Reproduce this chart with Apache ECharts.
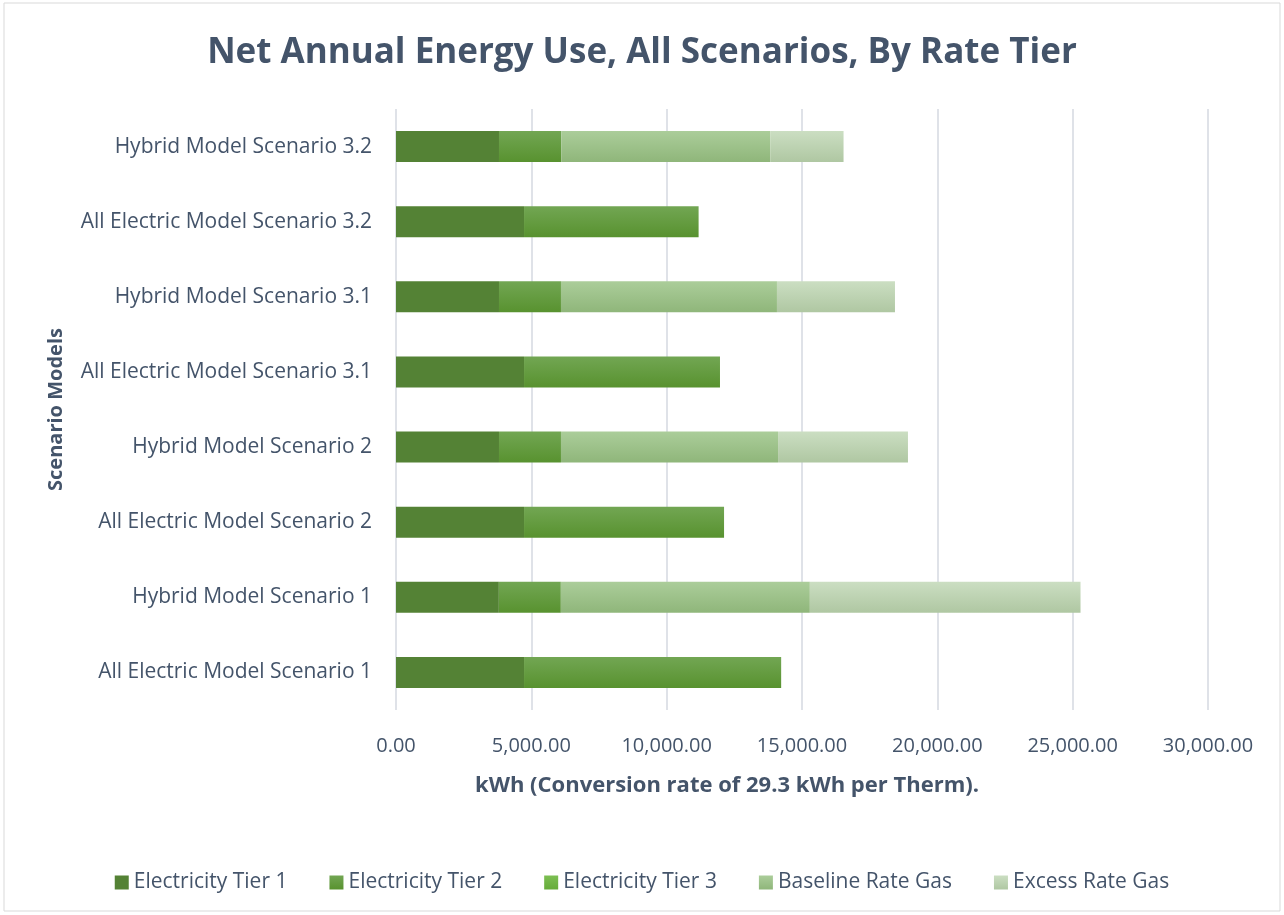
<!DOCTYPE html>
<html>
<head>
<meta charset="utf-8">
<title>Net Annual Energy Use</title>
<script src="https://cdn.jsdelivr.net/npm/echarts@6/dist/echarts.min.js"></script>
<style>
  html, body { margin: 0; padding: 0; background: #fff; }
  #chart { width: 1284px; height: 915px; }
</style>
</head>
<body>
<div id="chart"></div>
<script>
// categories run bottom -> top on the category axis
const scenarios = [
  "All Electric Model Scenario 1",
  "Hybrid Model Scenario 1",
  "All Electric Model Scenario 2",
  "Hybrid Model Scenario 2",
  "All Electric Model Scenario 3.1",
  "Hybrid Model Scenario 3.1",
  "All Electric Model Scenario 3.2",
  "Hybrid Model Scenario 3.2"
];
const elecTier1 = [4730, 3800, 4730, 3805, 4730, 3805, 4730, 3805];
const elecTier2 = [9500, 2290, 7390, 2290, 7240, 2290, 6450, 2300];
const elecTier3 = [0, 0, 0, 0, 0, 0, 0, 0];
const baselineGas = [0, 9200, 0, 8020, 0, 7980, 0, 7730];
const excessGas = [0, 10000, 0, 4800, 0, 4360, 0, 2700];
const xTicks = { min: 0, max: 30000, interval: 5000 };

const textColor = "#44546a";
const font = "'Open Sans', sans-serif";

function grad(top, bottom) {
  return new echarts.graphic.LinearGradient(0, 0, 0, 1, [
    { offset: 0, color: top },
    { offset: 1, color: bottom },
  ]);
}

function makeSeries(name, data, color) {
  return {
    name: name,
    type: "bar",
    stack: "total",
    barWidth: 31,
    data: data,
    itemStyle: { color: color },
    emphasis: { disabled: true },
  };
}

const chart = echarts.init(document.getElementById("chart"));
const option = {
  backgroundColor: "#fff",
  animation: false,
  title: {
    text: "Net Annual Energy Use, All Scenarios, By Rate Tier",
    left: "center",
    top: 31,
    textStyle: { color: textColor, fontFamily: font, fontWeight: "bold", fontSize: 35 },
  },
  graphic: [
    {
      type: "rect",
      shape: { x: 4, y: 3, width: 1276, height: 908 },
      style: { fill: "none", stroke: "#d9d9d9", lineWidth: 1 },
      silent: true,
    },
  ],
  legend: {
    top: 867,
    left: "center",
    icon: "rect",
    itemWidth: 14,
    itemHeight: 14,
    itemGap: 42,
    textStyle: { color: textColor, fontFamily: font, fontSize: 21 },
    data: ["Electricity Tier 1", "Electricity Tier 2", "Electricity Tier 3", "Baseline Rate Gas", "Excess Rate Gas"],
  },
  grid: { left: 396, right: 76, top: 109, bottom: 205, containLabel: false },
  xAxis: {
    type: "value",
    min: xTicks.min,
    max: xTicks.max,
    interval: xTicks.interval,
    axisLine: { show: false },
    axisTick: { show: false },
    splitLine: { show: true, lineStyle: { color: "#dfe2e8", width: 2 } },
    axisLabel: {
      margin: 26,
      color: textColor,
      fontFamily: font,
      fontSize: 20,
      formatter: (v) => v.toLocaleString("en-US", { minimumFractionDigits: 2, maximumFractionDigits: 2 }),
    },
    name: "kWh (Conversion rate of 29.3 kWh per Therm).",
    nameLocation: "middle",
    nameGap: 65,
    nameTextStyle: {
      color: textColor,
      fontFamily: font,
      fontSize: 22,
      fontWeight: "bold",
      padding: [0, 150, 0, 0],
    },
  },
  yAxis: {
    type: "category",
    data: scenarios,
    axisLine: { show: false },
    axisTick: { show: false },
    axisLabel: { margin: 24, color: textColor, fontFamily: font, fontSize: 21 },
    name: "Scenario Models",
    nameLocation: "middle",
    nameGap: 330,
    nameRotate: 90,
    nameTextStyle: { color: textColor, fontFamily: font, fontSize: 20, fontWeight: "bold" },
  },
  series: [
    makeSeries("Electricity Tier 1", elecTier1, "#548235"),
    makeSeries("Electricity Tier 2", elecTier2, grad("#72a653", "#58922f")),
    makeSeries("Electricity Tier 3", elecTier3, grad("#7cbf52", "#66ab3a")),
    makeSeries("Baseline Rate Gas", baselineGas, grad("#abcd9a", "#8fb67a")),
    makeSeries("Excess Rate Gas", excessGas, grad("#cbdec2", "#afc7a2")),
  ],
};
chart.setOption(option);
</script>
</body>
</html>
